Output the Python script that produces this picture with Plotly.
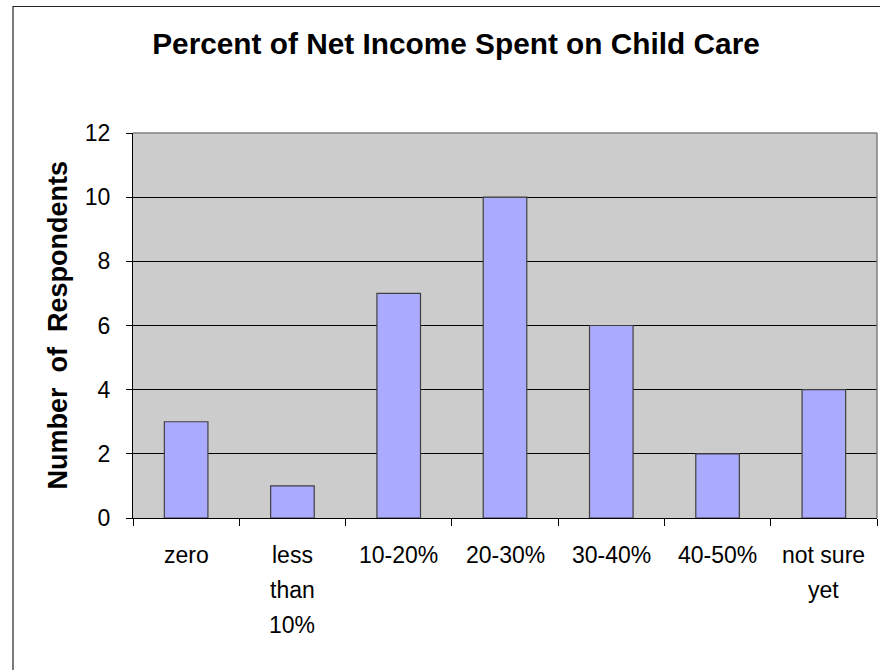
import plotly.graph_objects as go

categories = ["zero", "less than 10%", "10-20%", "20-30%", "30-40%", "40-50%", "not sure yet"]
label_lines = [["zero"], ["less", "than", "10%"], ["10-20%"], ["20-30%"], ["30-40%"], ["40-50%"], ["not sure", "yet"]]
respondents = [3, 1, 7, 10, 6, 2, 4]
y_ticks = [0, 2, 4, 6, 8, 10, 12]
title_text = "Percent of Net Income Spent on Child Care"
y_title = "Number&nbsp; of&nbsp; Respondents"

FONT = "Liberation Sans, Arial, sans-serif"

L, R, T, B = 133, 3, 133, 152
W, H = 880, 670
pw, ph = W - L - R, H - T - B

def px_x(p):
    return (p - L) / pw

def px_y(p):
    return (H - B - p) / ph

fig = go.Figure()
fig.add_trace(go.Bar(
    x=categories, y=respondents,
    marker=dict(color="#AAAAFF", line=dict(color="#404040", width=1.2)),
    showlegend=False,
))

fig.update_layout(
    width=W, height=H,
    margin=dict(l=L, r=R, t=T, b=B),
    paper_bgcolor="white",
    plot_bgcolor="#CCCCCC",
    bargap=0.59,
    font=dict(family=FONT, color="black"),
    title=dict(text="<b>" + title_text + "</b>", font=dict(size=29.8, family=FONT, color="black"),
               x=456 / W, xanchor="center", xref="container",
               y=1 - 44 / H, yanchor="middle", yref="container"),
    xaxis=dict(
        tickson="boundaries", ticks="outside", ticklen=7, tickcolor="black", tickwidth=1,
        showgrid=False, showline=True, linecolor="black", linewidth=1,
        showticklabels=False,
    ),
    yaxis=dict(
        range=[0, 12], tickvals=y_ticks, ticks="outside", ticklen=6, tickcolor="black",
        showgrid=True, gridcolor="black", gridwidth=1, zeroline=False,
        showline=True, linecolor="black", linewidth=1,
        tickfont=dict(size=23, family=FONT, color="black"),
        ticklabelstandoff=11,
    ),
)

# category labels (Excel-like line spacing)
for cat, lines in zip(categories, label_lines):
    for i, line in enumerate(lines):
        fig.add_annotation(
            text=line, showarrow=False, xref="x", yref="paper", x=cat, y=0,
            xanchor="center", yanchor="middle", yshift=-(37 + 35 * i),
            font=dict(size=23, family=FONT, color="black"),
        )

# y-axis title
fig.add_annotation(
    text="<b>" + y_title + "</b>", textangle=-90, showarrow=False,
    xref="paper", yref="paper", x=px_x(57), y=0.5, xanchor="center", yanchor="middle",
    font=dict(size=27, family=FONT, color="black"),
)

# plot-area top and right borders (gray)
fig.add_shape(type="line", xref="paper", yref="paper", x0=0, x1=1, y0=1, y1=1,
              line=dict(color="#808080", width=1.5), layer="above")
fig.add_shape(type="line", xref="paper", yref="paper", x0=1, x1=1, y0=0, y1=1,
              line=dict(color="#808080", width=1.5), layer="above")

# outer chart frame
fig.add_shape(type="rect", xref="paper", yref="paper",
              x0=px_x(13), x1=px_x(905), y0=px_y(700), y1=px_y(6.5),
              line=dict(color="#222222", width=1.2), fillcolor="rgba(0,0,0,0)", layer="above")

fig.write_html("out.html")
